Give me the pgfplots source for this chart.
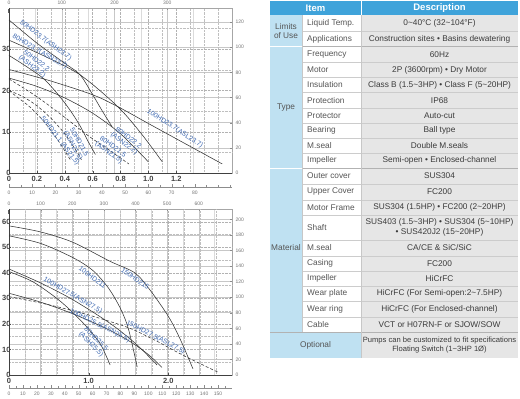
\documentclass[border=0pt]{standalone}
\usepackage{pgfplots}
\pgfplotsset{compat=1.18}
\usepackage{fontspec}
\setmainfont{Liberation Sans}
\definecolor{hdrblue}{HTML}{3FA3DA}
\definecolor{catblue}{HTML}{BFE1F2}
\definecolor{cellgray}{HTML}{E6E6E6}
\definecolor{lblblue}{HTML}{3C67B0}
\definecolor{txtgray}{HTML}{555555}
\definecolor{txtdark}{HTML}{3A3A3A}
\tikzset{clbl/.style={font=\fontsize{6.8}{7}\selectfont, text=lblblue, align=center, inner sep=0pt}}
\pgfplotsset{
  gpmax/.style={scale only axis, anchor=south west,
    tick pos=right, axis line style={black!35},
    grid=both, major grid style={black!22, line width=0.5pt}, minor grid style={black!14, line width=0.4pt},
    tick style={black!45}, major tick length=2pt, minor tick length=0pt,
    ticklabel style={font=\fontsize{5}{5}\selectfont, text=black!55},
    /pgf/number format/assume math mode=true},
  mainax/.style={scale only axis, anchor=south west,
    axis x line*=bottom, axis y line*=left, axis line style={-, black!75, line width=0.7pt},
    grid=both, major grid style={black!30, densely dotted}, minor grid style={black!25, densely dotted},
    tick style={black!70}, major tick length=2pt, minor tick length=0pt,
    ticklabel style={font=\fontsize{7.5}{7.5}\selectfont\bfseries, text=black!75},
    yticklabel style={xshift=5pt},
    /pgf/number format/assume math mode=true,
    every axis plot post/.append style={smooth, black!80, line width=0.55pt, mark=none}},
  scaleax/.style={scale only axis, anchor=south west, height=1pt, ymin=0, ymax=1,
    axis x line*=bottom, axis y line=none, axis line style={-, black!45},
    tick align=inside, major tick length=3pt, minor tick length=2pt, tick style={black!45},
    ticklabel style={font=\fontsize{5}{5}\selectfont, text=black!55},
    /pgf/number format/assume math mode=true}
}
\begin{document}
\begin{tikzpicture}
\path[use as bounding box] (0pt,0pt) rectangle (520pt,399pt);
% ================= TOP CHART =================
\begin{axis}[gpmax, at={(9pt,226pt)}, width=223pt, height=165pt,
  xmin=0, xmax=422.7, ymin=0, ymax=131.23,
  xtick={0,100,200,300}, minor xtick={50,150,250,350},
  ytick={0,20,40,60,80,100,120}]
\node[font=\fontsize{5}{5}\selectfont, text=black!55, anchor=south east, inner sep=0pt] at (rel axis cs:1,1) [yshift=2.5pt] {US.GPM};
\node[font=\fontsize{5}{5}\selectfont, text=black!55, anchor=north west, inner sep=0pt] at (rel axis cs:1,1) [xshift=1.5pt,yshift=-0.5pt] {feet};
\end{axis}
\begin{axis}[mainax, at={(9pt,226pt)}, width=223pt, height=165pt,
  xmin=0, xmax=1.6, ymin=0, ymax=40,
  xtick={0,0.2,0.4,0.6,0.8,1,1.2}, xticklabels={0,0.2,0.4,0.6,0.8,1.0,1.2},
  minor xtick={0.1,0.3,0.5,0.7,0.9,1.1,1.3,1.4,1.5},
  ytick={0,10,20,30}, minor ytick={5,15,25,35}]
% 50HD23.7(ASH23.7)
\addplot coordinates {(0,37.1) (0.2,31.5) (0.4,26.6) (0.51,23.8) (0.6,19) (0.67,15) (0.74,11.2)};
% 80HD23.7(ASN23.7)
\addplot coordinates {(0,32.2) (0.25,28.4) (0.51,23.8) (0.78,16.1) (0.95,9.5) (1.1,2.7)};
% 50HD22.2(ASH22.2)
\addplot coordinates {(0,28.5) (0.13,25.7) (0.26,22.5) (0.4,17) (0.5,12) (0.57,7.5) (0.62,4.5)};
% 100HD23.7(ASL23.7)
\addplot coordinates {(0,25.1) (0.3,22.3) (0.605,18.9) (0.78,16.1) (1.0,12) (1.2,8.3) (1.4,4.6) (1.53,2.2)};
% 80HD22.2(ASN22.2)
\addplot coordinates {(0,23) (0.2,21) (0.4,18.2) (0.6,14.5) (0.8,9.5) (1.0,2.7)};
% 80HD21.5(ASN21.5)
\addplot coordinates {(0,22.8) (0.2,18.5) (0.4,13.5) (0.57,9) (0.7,6) (0.86,2.2)};
% 50HD21.5(ASN21.5)
\addplot coordinates {(0,20) (0.1,18.5) (0.2,16.3) (0.3,13.3) (0.4,9.5) (0.48,5.5) (0.52,3.2)};
% 50HD21.1(AS21.5)
\addplot coordinates {(0,20) (0.055,18.5) (0.15,16) (0.25,12.5) (0.35,8) (0.44,3.2)};
\node[clbl, rotate=-36.6] at (axis cs:0.263,32.1) {50HD23.7(ASH23.7)};
\node[clbl, rotate=-30.5] at (axis cs:0.222,29.4) {80HD23.7(ASN23.7)};
\node[clbl, rotate=-37] at (axis cs:0.18,26.5) {50HD22.2\\(ASH22.2)};
\node[clbl, rotate=-33] at (axis cs:1.19,10.8) {100HD23.7(ASL23.7)};
\node[clbl, rotate=-37] at (axis cs:0.84,7.8) {80HD22.2\\(ASN22.2)};
\node[clbl, rotate=-36] at (axis cs:0.73,5.6) {80HD21.5\\(ASN21.5)};
\node[clbl, rotate=-60] at (axis cs:0.48,7) {50HD21.5\\(ASN21.5)};
\node[clbl, rotate=-53] at (axis cs:0.366,7.8) {50HD21.1 (AS21.5)};
\node[font=\fontsize{7.5}{7.5}\selectfont\bfseries, text=black!75, anchor=north east, inner sep=0pt] at (rel axis cs:1,0) [yshift=-2.5pt] {m\textsuperscript{3}/min};
\node[font=\fontsize{7.5}{7.5}\selectfont\bfseries, text=black!75, anchor=north east, inner sep=0pt] at (rel axis cs:0,1) [xshift=1pt,yshift=-1pt] {m};
\end{axis}
\begin{axis}[scaleax, at={(9pt,212pt)}, width=223pt, xmin=0, xmax=96,
  xtick={0,10,20,30,40,50,60,70,80}, minor xtick={5,15,25,35,45,55,65,75,85,90,95}]
\node[font=\fontsize{5}{5}\selectfont, text=black!55, anchor=north east, inner sep=0pt] at (rel axis cs:1,0) [yshift=-2.5pt] {m\textsuperscript{3}/h};
\end{axis}
% ================= BOTTOM CHART =================
\begin{axis}[gpmax, at={(9pt,24pt)}, width=223pt, height=166pt,
  xmin=0, xmax=705, ymin=0, ymax=213.25,
  xtick={0,100,200,300,400,500,600}, minor xtick={50,150,250,350,450,550,650},
  ytick={0,20,40,60,80,100,120,140,160,180,200}]
\node[font=\fontsize{5}{5}\selectfont, text=black!55, anchor=south east, inner sep=0pt] at (rel axis cs:1,1) [yshift=2.5pt] {US.GPM};
\node[font=\fontsize{5}{5}\selectfont, text=black!55, anchor=north west, inner sep=0pt] at (rel axis cs:1,1) [xshift=1.5pt,yshift=-0.5pt] {feet};
\end{axis}
\begin{axis}[mainax, at={(9pt,24pt)}, width=223pt, height=166pt,
  xmin=0, xmax=2.8, ymin=0, ymax=65,
  xtick={0,1,2}, xticklabels={0,1.0,2.0},
  minor xtick={0.2,0.4,0.6,0.8,1.2,1.4,1.6,1.8,2.2,2.4,2.6},
  ytick={0,10,20,30,40,50,60}, minor ytick={5,15,25,35,45,55}]
% 150HD215
\addplot coordinates {(0,58.4) (0.4,56) (0.8,52) (1.27,44.5) (1.58,40) (1.77,33.3) (2.0,23) (2.15,14) (2.31,2.4)};
% 100HD211
\addplot coordinates {(0,54.5) (0.4,51.5) (0.8,46) (1.05,41) (1.25,34) (1.4,26) (1.5,18) (1.61,3.1)};
% 100HD27.5(ASN27.5)
\addplot coordinates {(0,41.5) (0.4,36) (0.8,29.5) (1.27,20.2) (1.6,12) (1.86,3.9)};
% 80HD25.5(ASH25.5)
\addplot coordinates {(0,40.5) (0.3,36.5) (0.6,30) (0.8,24.5) (1.0,18) (1.15,12) (1.27,3.9)};
% 100HD25.5(ASN25.5)
\addplot coordinates {(0,32) (0.4,28.5) (0.8,24) (1.2,18.5) (1.5,13.5) (1.75,8) (1.92,3)};
% 150HD27.5(ASL27.5)
\addplot coordinates {(0,30.7) (0.5,27.5) (1.0,23.5) (1.5,18.5) (1.84,13.5) (2.2,7.5) (2.63,1)};
\node[clbl, rotate=-35] at (axis cs:1.585,37.7) {150HD215};
\node[clbl, rotate=-37] at (axis cs:1.05,38.2) {100HD211};
\node[clbl, rotate=-30] at (axis cs:0.8,31.1) {100HD27.5(ASN27.5)};
\node[clbl, rotate=-26.5] at (axis cs:1.14,19.3) {100HD25.5(ASN25.5)};
\node[clbl, rotate=-45] at (axis cs:1.06,13) {80HD25.5\\(ASH25.5)};
\node[clbl, rotate=-27] at (axis cs:1.84,14.7) {150HD27.5(ASL27.5)};
\node[font=\fontsize{7.5}{7.5}\selectfont\bfseries, text=black!75, anchor=north east, inner sep=0pt] at (rel axis cs:1,0) [yshift=-2.5pt] {m\textsuperscript{3}/min};
\node[font=\fontsize{7.5}{7.5}\selectfont\bfseries, text=black!75, anchor=north east, inner sep=0pt] at (rel axis cs:0,1) [xshift=1pt,yshift=-1pt] {m};
\end{axis}
\begin{axis}[scaleax, at={(9pt,11pt)}, width=223pt, xmin=0, xmax=160,
  xtick={0,10,20,30,40,50,60,70,80,90,100,110,120,130,140,150},
  minor xtick={5,15,25,35,45,55,65,75,85,95,105,115,125,135,145,155}]
\node[font=\fontsize{5}{5}\selectfont, text=black!55, anchor=north east, inner sep=0pt] at (rel axis cs:1,0) [yshift=-2.5pt] {m\textsuperscript{3}/h};
\end{axis}
% ================= TABLE =================
\begin{scope}[x=1pt, y=1pt, shift={(0pt,399pt)}, yscale=-1]
\fill[hdrblue] (270,1) rectangle (518,15.5);
\draw[white, line width=0.6pt] (361,1) -- (361,15.5);
\node[text=white, font=\fontsize{9.5}{9.5}\selectfont\bfseries] at (315.5,8.4) {Item};
\node[text=white, font=\fontsize{9.5}{9.5}\selectfont\bfseries] at (439.5,8.4) {Description};
\fill[catblue] (270,15.5) rectangle (302,332);
\fill[white] (302,15.5) rectangle (361,332);
\fill[cellgray] (361,15.5) rectangle (518,332);
\fill[catblue] (270,332) rectangle (361,358);
\fill[cellgray] (361,332) rectangle (518,358);
\foreach \yy in {31,62.3,77.5,92.7,108,123,138,153,184,200,215,240,256,271,286,301,317}
  \draw[black!20, line width=0.4pt] (302,\yy) -- (518,\yy);
\foreach \yy in {46.7,168}
  {\draw[white, line width=0.8pt] (270,\yy) -- (302,\yy);
   \draw[black!30, line width=0.6pt] (302,\yy) -- (518,\yy);}
\draw[black!30, line width=0.6pt] (270,332) -- (518,332);
\draw[black!22, line width=0.5pt] (302,15.5) -- (302,332);
\draw[black!22, line width=0.5pt] (361,15.5) -- (361,358);
\begin{scope}[every node/.style={font=\fontsize{8.3}{9.6}\selectfont, inner sep=0pt}]
\node[text=txtgray, align=center] at (286,31) {Limits\\of Use};
\node[text=txtgray] at (286,107.5) {Type};
\node[text=txtgray] at (286,248) {Material};
\node[text=txtgray] at (315.5,345) {Optional};
\foreach \yy/\t in {23.4/Liquid Temp., 38.9/Applications, 54.5/Frequency, 70/Motor, 85/Insulation, 100.4/Protection, 115.6/Protector, 130.6/Bearing, 145.6/M.seal, 160.6/Impeller, 176/Outer cover, 191.8/Upper Cover, 207.4/Motor Frame, 227.4/Shaft, 248/M.seal, 263.5/Casing, 278.5/Impeller, 293.5/Wear plate, 309/Wear ring, 324.5/Cable}
  \node[text=txtgray, anchor=west] at (307,\yy) {\t};
\node[text=txtdark] at (439.5,23.4) {0\textasciitilde40°C (32\textasciitilde104°F)};
\node[text=txtdark] at (439.5,38.9) {Construction sites • Basins dewatering};
\node[text=txtdark] at (439.5,54.5) {60Hz};
\node[text=txtdark] at (439.5,70) {2P (3600rpm) • Dry Motor};
\node[text=txtdark] at (439.5,85) {Class B (1.5\textasciitilde3HP) • Class F (5\textasciitilde20HP)};
\node[text=txtdark] at (439.5,100.4) {IP68};
\node[text=txtdark] at (439.5,115.6) {Auto-cut};
\node[text=txtdark] at (439.5,130.6) {Ball type};
\node[text=txtdark] at (439.5,145.6) {Double M.seals};
\node[text=txtdark] at (439.5,160.6) {Semi-open • Enclosed-channel};
\node[text=txtdark] at (439.5,176) {SUS304};
\node[text=txtdark] at (439.5,191.8) {FC200};
\node[text=txtdark] at (439.5,207.4) {SUS304 (1.5HP) • FC200 (2\textasciitilde20HP)};
\node[text=txtdark, align=center] at (439.5,227.4) {SUS403 (1.5\textasciitilde3HP) • SUS304 (5\textasciitilde10HP)\\• SUS420J2 (15\textasciitilde20HP)};
\node[text=txtdark] at (439.5,248) {CA/CE \& SiC/SiC};
\node[text=txtdark] at (439.5,263.5) {FC200};
\node[text=txtdark] at (439.5,278.5) {HiCrFC};
\node[text=txtdark] at (439.5,293.5) {HiCrFC (For Semi-open:2\textasciitilde7.5HP)};
\node[text=txtdark] at (439.5,309) {HiCrFC (For Enclosed-channel)};
\node[text=txtdark] at (439.5,324.5) {VCT or H07RN-F or SJOW/SOW};
\node[text=txtdark, align=center, font=\fontsize{7.6}{9}\selectfont] at (439.5,345) {Pumps can be customized to fit specifications\\Floating Switch (1\textasciitilde3HP 1Ø)};
\end{scope}
\end{scope}
\end{tikzpicture}
\end{document}
